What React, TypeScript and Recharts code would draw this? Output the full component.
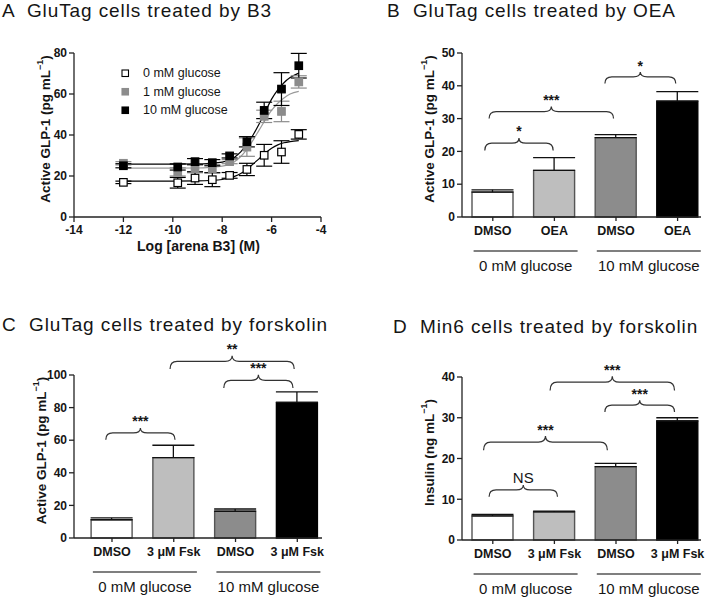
import React from "react";
import {
  ComposedChart,
  Scatter,
  Line,
  Bar,
  Cell,
  XAxis,
  YAxis,
  ErrorBar,
  Legend,
  ReferenceArea,
} from "recharts";

const FONT = "'Liberation Sans', Arial, Helvetica, sans-serif";
const INK = "#151515";
const AXIS = "#222";

// ---- panel A: GluTag, arena B3 dose response ----
const logDose = [-12, -9.8, -9.1, -8.4, -7.7, -7.0, -6.3, -5.6, -4.9];
const glucose0 = [16.9, 16.7, 19.0, 18.2, 20.3, 23.2, 30.1, 31.7, 40.3];
const glucose0Sem = [0.6, 2.6, 3.1, 3.4, 1.4, 3.0, 5.3, 5.5, 2.3];
const glucose1 = [26.2, 22.0, 23.6, 23.6, 27.0, 34.1, 49.1, 51.5, 65.9];
const glucose1Sem = [0.8, 2.0, 2.0, 2.0, 1.0, 4.5, 3.0, 5.0, 3.0];
const glucose10 = [25.0, 24.4, 27.0, 26.5, 29.8, 36.7, 52.0, 62.4, 73.8];
const glucose10Sem = [1.0, 1.5, 1.5, 1.5, 1.0, 2.5, 4.0, 8.0, 6.0];

// fitted curves
const fitDose = [-12, -10, -9, -8.5, -8, -7.5, -7.25, -7, -6.75, -6.5, -6.25, -6, -5.75, -5.5, -5.25, -4.9];
const fit0 = [17.5, 17.5, 17.6, 17.8, 18.3, 19.8, 21.2, 23.2, 25.8, 28.5, 31.2, 33.5, 35.2, 36.2, 36.8, 37.3];
const fit1 = [23.8, 23.8, 23.9, 24.2, 24.8, 27.0, 29.5, 33.0, 37.5, 42.5, 47.5, 52.0, 55.5, 58.0, 60.0, 61.3];
const fit10 = [25.8, 25.8, 25.9, 26.2, 26.8, 29.2, 31.8, 35.5, 40.0, 45.5, 51.5, 57.5, 62.0, 65.5, 68.0, 70.2];

const seriesNames = ["0 mM glucose", "1 mM glucose", "10 mM glucose"];

// ---- bar panels ----
const barPositions = [1, 2, 3, 4];
const groupPositions = [1.5, 3.5];
const glucoseGroups = ["0 mM glucose", "10 mM glucose"];

const oeaTicks = ["DMSO", "OEA", "DMSO", "OEA"];
const oeaMeans = [7.6, 14.2, 24.2, 35.3];
const oeaSem = [0.7, 3.9, 0.9, 2.9];

const fskTicks = ["DMSO", "3 \u03bcM Fsk", "DMSO", "3 \u03bcM Fsk"];
const gluTagFsk = [11.2, 49.3, 16.4, 83.2];
const gluTagFskSem = [1.1, 7.6, 1.4, 6.4];
const min6Fsk = [5.9, 6.9, 18.0, 29.2];
const min6FskSem = [0.4, 0.2, 0.8, 0.8];

// significance braces: from/to on the bar axis, low = tips, high = peak
const oeaBraces = [
  { from: 0.87, to: 1.98, low: 20.3, high: 24.1, label: "*" },
  { from: 0.94, to: 2.96, low: 30.0, high: 33.7, label: "***" },
  { from: 2.82, to: 3.97, low: 40.7, high: 44.2, label: "*" },
];
const gluTagFskBraces = [
  { from: 0.9, to: 2.02, low: 60.3, high: 67.5, label: "***" },
  { from: 1.94, to: 3.95, low: 103.7, high: 111.8, label: "**" },
  { from: 2.81, to: 3.93, low: 92.0, high: 100.2, label: "***" },
];
const min6FskBraces = [
  { from: 0.94, to: 2.05, low: 10.6, high: 13.5, label: "NS" },
  { from: 0.85, to: 2.86, low: 22.0, high: 25.5, label: "***" },
  { from: 1.93, to: 3.95, low: 36.7, high: 40.2, label: "***" },
  { from: 2.82, to: 3.95, low: 31.4, high: 34.3, label: "***" },
];

const barFills = ["#ffffff", "#bebebe", "#8c8c8c", "#000000"];
const barStrokes = ["#555", "#555", "#555", "#000"];

const toPoints = (ys: number[], errs: number[]) =>
  logDose.map((x, i) => ({ x, y: ys[i], err: errs[i] }));
const toCurve = (ys: number[]) => fitDose.map((x, i) => ({ x, y: ys[i] }));
const toBars = (ys: number[], errs: number[]) =>
  barPositions.map((x, i) => ({ x, y: ys[i], err: [0, errs[i]] }));

const tickStyle = { fill: INK, fontSize: 12, fontWeight: 700, fontFamily: FONT };

function yTitle(main: string, cxOff: number) {
  return {
    content: (props: any) => {
      const vb = props.viewBox || {};
      const cx = vb.x + cxOff;
      const cy = vb.y + vb.height / 2 - 6;
      return (
        <text
          transform={`translate(${cx},${cy}) rotate(-90)`}
          textAnchor="middle"
          dominantBaseline="central"
          fontFamily={FONT}
          fontSize={13.5}
          fontWeight={700}
          fill={INK}
        >
          {main}
          <tspan fontSize={9} dy={-5}>
            {"\u22121"}
          </tspan>
          <tspan dy={5}>)</tspan>
        </text>
      );
    },
  };
}

function square(fill: string, stroke: string) {
  return (p: any) => (
    <rect x={p.cx - 3.75} y={p.cy - 3.75} width={7.5} height={7.5} fill={fill} stroke={stroke} strokeWidth={1.2} />
  );
}

function Brace(props: any) {
  const { x, y, width, height, text } = props;
  if (![x, y, width, height].every((v) => Number.isFinite(v))) return null;
  const mid = x + width / 2;
  const base = y + height;
  const bar = y + height * 0.42;
  const r = Math.min(7, width / 4);
  const d =
    `M${x},${base} Q${x},${bar} ${x + r},${bar} L${mid - r},${bar} ` +
    `Q${mid},${bar} ${mid},${y} Q${mid},${bar} ${mid + r},${bar} ` +
    `L${x + width - r},${bar} Q${x + width},${bar} ${x + width},${base}`;
  const ns = text === "NS";
  return (
    <g>
      <path d={d} fill="none" stroke="#333" strokeWidth={1.2} />
      <text
        x={mid}
        y={y - 1.5}
        textAnchor="middle"
        fontFamily={FONT}
        fontSize={ns ? 15 : 14}
        fontWeight={ns ? 400 : 700}
        fill={INK}
      >
        {text}
      </text>
    </g>
  );
}

function GroupTick(props: any) {
  const { x, y, payload } = props;
  const label = glucoseGroups[groupPositions.indexOf(payload.value)];
  return (
    <g>
      <line x1={x - 50} x2={x + 54} y1={y + 14} y2={y + 14} stroke="#555" strokeWidth={1.4} />
      <text x={x + 2} y={y + 34} textAnchor="middle" fontFamily={FONT} fontSize={15} fill={INK}>
        {label}
      </text>
    </g>
  );
}

function DoseLegend() {
  const fills = ["#ffffff", "#8c8c8c", "#000000"];
  return (
    <svg width={140} height={62}>
      {seriesNames.map((name, i) => (
        <g key={name}>
          <rect x={10} y={8 + i * 18.5} width={6.5} height={6.5} fill={fills[i]} stroke={i === 1 ? "#8c8c8c" : "#000"} strokeWidth={1.1} />
          <text x={31} y={15.3 + i * 18.5} fontFamily={FONT} fontSize={12.5} fill={INK}>
            {name}
          </text>
        </g>
      ))}
    </svg>
  );
}

function DosePanel() {
  return (
    <ComposedChart width={354} height={300} margin={{ top: 53, right: 33, bottom: 43, left: 0 }}>
      <XAxis
        type="number"
        dataKey="x"
        domain={[-14, -4]}
        ticks={[-14, -12, -10, -8, -6, -4]}
        height={40}
        tickSize={5}
        tickMargin={3}
        tick={tickStyle}
        axisLine={{ stroke: AXIS, strokeWidth: 1.3 }}
        tickLine={{ stroke: AXIS, strokeWidth: 1.3 }}
        label={{
          content: (props: any) => {
            const vb = props.viewBox || {};
            return (
              <text
                x={vb.x + vb.width / 2 + 1}
                y={vb.y + 34}
                textAnchor="middle"
                fontFamily={FONT}
                fontSize={14}
                fontWeight={700}
                fill={INK}
              >
                {"Log  [arena B3] (M)"}
              </text>
            );
          },
        }}
      />
      <YAxis
        type="number"
        dataKey="y"
        domain={[0, 80]}
        ticks={[0, 20, 40, 60, 80]}
        width={74}
        tickSize={5}
        tickMargin={2}
        tick={tickStyle}
        axisLine={{ stroke: AXIS, strokeWidth: 1.3 }}
        tickLine={{ stroke: AXIS, strokeWidth: 1.3 }}
        label={yTitle("Active GLP-1 (pg mL", 45)}
      />
      <Legend
        layout="vertical"
        align="center"
        verticalAlign="middle"
        wrapperStyle={{ left: 112, top: 62, width: 140, height: 62 }}
        content={() => <DoseLegend />}
      />
      <Line data={toCurve(fit0)} dataKey="y" type="monotone" dot={false} stroke="#000" strokeWidth={1.2} isAnimationActive={false} />
      <Line data={toCurve(fit1)} dataKey="y" type="monotone" dot={false} stroke="#9a9a9a" strokeWidth={1.2} isAnimationActive={false} />
      <Line data={toCurve(fit10)} dataKey="y" type="monotone" dot={false} stroke="#000" strokeWidth={1.2} isAnimationActive={false} />
      <Scatter data={toPoints(glucose1, glucose1Sem)} dataKey="y" shape={square("#8c8c8c", "#8c8c8c")} isAnimationActive={false}>
        <ErrorBar dataKey="err" direction="y" width={8} stroke="#8c8c8c" strokeWidth={1.2} />
      </Scatter>
      <Scatter data={toPoints(glucose10, glucose10Sem)} dataKey="y" shape={square("#000", "#000")} isAnimationActive={false}>
        <ErrorBar dataKey="err" direction="y" width={8} stroke="#000" strokeWidth={1.2} />
      </Scatter>
      <Scatter data={toPoints(glucose0, glucose0Sem)} dataKey="y" shape={square("#fff", "#000")} isAnimationActive={false}>
        <ErrorBar dataKey="err" direction="y" width={8} stroke="#000" strokeWidth={1.2} />
      </Scatter>
    </ComposedChart>
  );
}

interface BarPanelProps {
  width: number;
  height: number;
  margin: { top: number; right: number; bottom: number; left: number };
  axisWidth: number;
  xDomain: [number, number];
  yMax: number;
  yStep: number;
  yLabel: string;
  ticks: string[];
  values: number[];
  sems: number[];
  braces: { from: number; to: number; low: number; high: number; label: string }[];
}

function BarPanel(p: BarPanelProps) {
  const yTicks: number[] = [];
  for (let v = 0; v <= p.yMax; v += p.yStep) yTicks.push(v);
  return (
    <ComposedChart width={p.width} height={p.height} margin={p.margin} data={toBars(p.values, p.sems)}>
      <XAxis
        type="number"
        dataKey="x"
        domain={p.xDomain}
        allowDataOverflow
        ticks={barPositions}
        interval={0}
        tickFormatter={(v: number) => p.ticks[v - 1]}
        height={20}
        tickSize={4}
        tickMargin={5}
        tick={{ ...tickStyle, fontSize: 12.5 }}
        axisLine={{ stroke: AXIS, strokeWidth: 1.3 }}
        tickLine={{ stroke: AXIS, strokeWidth: 1.3 }}
      />
      <XAxis
        xAxisId="group"
        type="number"
        dataKey="x"
        domain={p.xDomain}
        allowDataOverflow
        ticks={groupPositions}
        interval={0}
        height={36}
        tickSize={0}
        tickMargin={0}
        axisLine={false}
        tickLine={false}
        tick={<GroupTick />}
      />
      <YAxis
        type="number"
        domain={[0, p.yMax]}
        ticks={yTicks}
        width={p.axisWidth}
        tickSize={5}
        tickMargin={2}
        tick={tickStyle}
        axisLine={{ stroke: AXIS, strokeWidth: 1.3 }}
        tickLine={{ stroke: AXIS, strokeWidth: 1.3 }}
        label={yTitle(p.yLabel, p.axisWidth - 33)}
      />
      <Bar dataKey="y" barSize={41} strokeWidth={1.4} isAnimationActive={false}>
        {barPositions.map((_, i) => (
          <Cell key={i} fill={barFills[i]} stroke={barStrokes[i]} />
        ))}
        <ErrorBar dataKey="err" direction="y" width={21} stroke="#111" strokeWidth={1.3} />
      </Bar>
      {p.braces.map((b, i) => (
        <ReferenceArea
          key={i}
          x1={b.from}
          x2={b.to}
          y1={b.low}
          y2={b.high}
          ifOverflow="visible"
          shape={(sp: any) => <Brace {...sp} text={b.label} />}
        />
      ))}
    </ComposedChart>
  );
}

const titleStyle: React.CSSProperties = {
  position: "absolute",
  fontFamily: FONT,
  fontSize: 19,
  letterSpacing: 0.9,
  lineHeight: "21px",
  color: INK,
  whiteSpace: "pre",
};

export default function App() {
  return (
    <div style={{ position: "absolute", left: 0, top: 0, width: 709, height: 599, background: "#fff", overflow: "hidden" }}>
      <div style={{ position: "absolute", left: 0, top: 0 }}>
        <DosePanel />
      </div>
      <div style={{ position: "absolute", left: 354, top: 0 }}>
        <BarPanel
          width={355}
          height={300}
          margin={{ top: 53, right: 8, bottom: 27, left: 0 }}
          axisWidth={108}
          xDomain={[0.5, 4.38]}
          yMax={50}
          yStep={10}
          yLabel="Active GLP-1 (pg mL"
          ticks={oeaTicks}
          values={oeaMeans}
          sems={oeaSem}
          braces={oeaBraces}
        />
      </div>
      <div style={{ position: "absolute", left: 0, top: 300 }}>
        <BarPanel
          width={354}
          height={299}
          margin={{ top: 75, right: 32, bottom: 5, left: 0 }}
          axisWidth={74}
          xDomain={[0.385, 4.4]}
          yMax={100}
          yStep={20}
          yLabel="Active GLP-1 (pg mL"
          ticks={fskTicks}
          values={gluTagFsk}
          sems={gluTagFskSem}
          braces={gluTagFskBraces}
        />
      </div>
      <div style={{ position: "absolute", left: 354, top: 300 }}>
        <BarPanel
          width={355}
          height={299}
          margin={{ top: 77, right: 8, bottom: 3, left: 0 }}
          axisWidth={108}
          xDomain={[0.5, 4.38]}
          yMax={40}
          yStep={10}
          yLabel="Insulin (ng mL"
          ticks={fskTicks}
          values={min6Fsk}
          sems={min6FskSem}
          braces={min6FskBraces}
        />
      </div>
      <div style={{ ...titleStyle, left: 2, top: 0 }}>{"A  GluTag cells treated by B3"}</div>
      <div style={{ ...titleStyle, left: 387, top: 0 }}>{"B  GluTag cells treated by OEA"}</div>
      <div style={{ ...titleStyle, left: 2, top: 314 }}>{"C  GluTag cells treated by forskolin"}</div>
      <div style={{ ...titleStyle, left: 393, top: 316 }}>{"D  Min6 cells treated by forskolin"}</div>
    </div>
  );
}
